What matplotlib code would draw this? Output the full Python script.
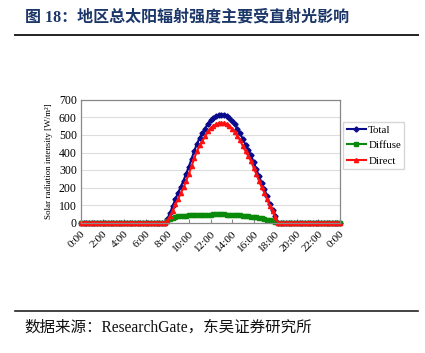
import numpy as np
import pandas as pd
import matplotlib
matplotlib.use('Agg')
import matplotlib.pyplot as plt

# 15-minute steps, 0:00 .. 24:00 (97 points); daytime 7:45 .. 18:15
night_am = [0] * 31
night_pm = [0] * 23
total_day = [0, 20, 55, 95, 135, 170, 205, 240, 280, 320, 365, 410, 450, 485, 510,
             537, 565, 585, 598, 607, 612, 614, 613, 608, 598, 580, 560, 535, 510,
             475, 445, 415, 385, 345, 305, 265, 225, 190, 150, 105, 70, 35, 0]
diffuse_day = [0, 10, 20, 27, 32, 35, 37, 39, 40, 41, 42, 42, 43, 43, 44, 44, 45, 45,
               46, 46, 46, 46, 46, 45, 45, 44, 43, 42, 41, 40, 38, 36, 34, 32, 30,
               27, 24, 20, 16, 12, 7, 3, 0]
direct_day = [0, 10, 35, 68, 103, 135, 168, 201, 240, 279, 323, 368, 407, 442, 466,
              493, 520, 540, 552, 561, 566, 568, 567, 563, 553, 536, 517, 493, 469,
              435, 407, 379, 351, 313, 275, 238, 201, 170, 134, 93, 63, 32, 0]

total = night_am + total_day + night_pm
diffuse = night_am + diffuse_day + night_pm
direct = night_am + direct_day + night_pm

tick_labels = ['0:00', '2:00', '4:00', '6:00', '8:00', '10:00', '12:00',
               '14:00', '16:00', '18:00', '20:00', '22:00', '0:00']

cjk = ['Liberation Serif', 'Noto Sans CJK SC']
serif = 'Liberation Serif'

fig = plt.figure(figsize=(4.25, 3.53), dpi=100)

# title and rules
fig.text(25 / 425, 1 - 18 / 353, '图 18：地区总太阳辐射强度主要受直射光影响',
         family=cjk, fontsize=11.5, fontweight='bold', color='#1b3668', va='center')
fig.add_artist(plt.Line2D([15 / 425, 418 / 425], [1 - 35 / 353, 1 - 35 / 353],
                          color='#222222', lw=1.4))
fig.add_artist(plt.Line2D([15 / 425, 418 / 425], [1 - 311 / 353, 1 - 311 / 353],
                          color='#222222', lw=1.2))
fig.text(24 / 425, 1 - 328 / 353, '数据来源：ResearchGate，东吴证券研究所',
         family=cjk, fontsize=11.2, color='#111111', va='center')

ax = fig.add_axes([81 / 425, 1 - 222.5 / 353, 259 / 425, 122.5 / 353])
x = np.arange(len(total))
ax.plot(x, total, color='#0a0a8c', lw=1.5, marker='D', ms=2.6, label='Total', clip_on=False)
ax.plot(x, diffuse, color='#0a8a0a', lw=1.5, marker='s', ms=2.6, label='Diffuse', clip_on=False)
ax.plot(x, direct, color='#ff1010', lw=1.5, marker='^', ms=3.0, label='Direct', clip_on=False)

ax.set_xlim(0, len(total) - 1)
ax.set_ylim(0, 700)
ax.set_yticks(range(0, 701, 100))
ax.set_xticks(range(0, len(total), 8))
ax.set_xticklabels(tick_labels, rotation=45, ha='right', rotation_mode='anchor',
                   family=serif, fontsize=8)
for lab in ax.get_yticklabels():
    lab.set_family(serif)
    lab.set_fontsize(8.5)
ax.tick_params(axis='y', length=0, pad=3)
ax.tick_params(axis='x', length=3, direction='in', color='#888888', pad=5)
ax.grid(axis='y', color='#dddddd', lw=0.8)
ax.set_axisbelow(True)
for s in ax.spines.values():
    s.set_color('#888888')
    s.set_linewidth(0.9)
ax.set_ylabel('Solar radiation intensity [W/m²]', family=serif, fontsize=6.5, labelpad=4)

leg = ax.legend(loc='center left', bbox_to_anchor=(1.0, 0.63), prop={'family': serif, 'size': 7.8},
                frameon=True, fancybox=False, edgecolor='#cccccc', handlelength=1.8,
                handletextpad=0.2, borderpad=0.3, borderaxespad=0.3, labelspacing=0.55)

fig.savefig('out.png', dpi=100)
